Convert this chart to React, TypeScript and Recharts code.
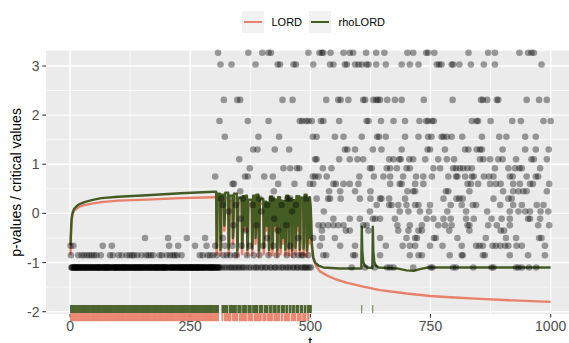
import {
  CartesianGrid,
  ComposedChart,
  Customized,
  Line,
  Scatter,
  XAxis,
  YAxis,
} from 'recharts'

const FONT = '"Liberation Sans", Arial, Helvetica, sans-serif'
const LORD_COLOR = '#E8806A'
const RHO_COLOR = '#445C24'

const xTicks = [0, 250, 500, 750, 1000]
const xMinor = [125, 375, 625, 875]
const yTicks = [-2, -1, 0, 1, 2, 3]
const yMinor = [-1.5, -0.5, 0.5, 1.5, 2.5]

// p-values, grouped by the discrete level they sit on (x = hypothesis index)
const at327 = [308, 371, 400, 413, 418, 496, 519, 524, 527, 542, 569, 582, 589, 616, 637, 654, 702, 714, 741, 745, 758, 829, 870, 884, 935, 953, 960, 965]
const at303 = [313, 336, 386, 432, 437, 465, 470, 506, 541, 548, 572, 576, 593, 600, 607, 617, 621, 637, 657, 690, 707, 725, 763, 768, 773, 794, 797, 810, 834, 861, 884, 981]
const at231 = [320, 348, 354, 442, 463, 533, 558, 563, 579, 610, 614, 631, 637, 641, 645, 660, 676, 690, 736, 796, 855, 859, 868, 888, 891, 950, 976, 992]
const at188 = [311, 370, 413, 478, 483, 491, 496, 503, 522, 527, 560, 617, 621, 647, 673, 697, 727, 741, 745, 753, 757, 836, 846, 849, 875, 920, 938, 985, 1000]
const at156 = [322, 392, 435, 505, 513, 551, 569, 607, 639, 643, 657, 697, 725, 745, 752, 773, 777, 784, 794, 816, 857, 893, 908, 947, 969]
const at130 = [381, 390, 426, 456, 572, 577, 593, 630, 648, 690, 744, 749, 780, 822, 829, 846, 853, 857, 900, 947, 969, 996]
const at110 = [352, 510, 513, 560, 582, 598, 610, 664, 673, 685, 688, 706, 714, 739, 766, 784, 799, 853, 860, 874, 891, 900, 928, 960, 965, 992]
const at092 = [374, 444, 458, 472, 477, 526, 544, 624, 628, 659, 666, 680, 700, 707, 756, 770, 797, 803, 811, 818, 827, 836, 884, 912, 926, 935, 940, 978]
const at075 = [302, 364, 370, 404, 422, 505, 510, 517, 534, 602, 632, 652, 666, 693, 720, 735, 753, 787, 803, 806, 822, 836, 840, 861, 872, 881, 915, 921, 950, 969, 974]
const at060 = [338, 341, 433, 467, 499, 506, 548, 553, 569, 582, 600, 666, 686, 690, 718, 735, 827, 834, 849, 874, 886, 896, 922, 936, 957, 963, 997]
const at045 = [354, 424, 539, 562, 593, 625, 702, 714, 718, 782, 787, 831, 901, 922, 933, 943, 950, 992]
const at030 = [314, 359, 394, 420, 452, 458, 492, 513, 537, 541, 563, 603, 625, 645, 648, 664, 697, 777, 804, 810, 817, 881, 912, 919]
const at017 = [318, 345, 380, 410, 440, 470, 638, 664, 669, 683, 700, 718, 725, 749, 792, 815, 838, 845, 895, 922, 940, 971, 985]
const at004 = [330, 398, 462, 528, 624, 686, 704, 728, 747, 785, 824, 868, 915, 933, 947, 957, 979, 995]
const atNeg011 = [355, 425, 548, 582, 603, 630, 635, 645, 676, 742, 756, 777, 792, 824, 840, 877, 898, 915, 953, 957, 978]
const atNeg024 = [340, 388, 450, 517, 526, 537, 548, 558, 569, 610, 617, 681, 707, 732, 766, 780, 794, 827, 831, 870, 888, 915, 974, 997]
const atNeg035 = [365, 433, 524, 574, 582, 621, 683, 704, 725, 732, 789, 831, 896, 903]
const atNeg050 = [156, 204, 243, 281, 318, 410, 475, 506, 524, 551, 645, 700, 718, 722, 757, 761, 806, 865, 907, 928, 976, 981]
const atNeg066 = [1, 7, 68, 87, 206, 225, 260, 284, 302, 322, 338, 357, 374, 402, 423, 458, 520, 562, 593, 657, 692, 707, 718, 749, 775, 815, 845, 852, 859, 879, 886, 895, 905, 912, 929, 940, 988]
const atNeg085 = [2, 17, 24, 29, 35, 40, 45, 50, 55, 64, 83, 89, 101, 108, 118, 124, 129, 133, 140, 149, 158, 163, 168, 173, 186, 191, 201, 208, 214, 218, 223, 232, 270, 276, 286, 291, 297, 305, 319, 326, 333, 343, 347, 368, 382, 394, 413, 430, 451, 465, 475, 482, 485, 496, 527, 533, 589, 593, 645, 707, 725, 732, 790, 815, 817, 859, 863, 915, 953, 988]
// lowest level: every index in these runs not listed above, plus the extras
const floorRuns = [[1, 310]]
const floorExtra = [312, 316, 321, 325, 330, 334, 337, 342, 345, 350, 353, 358, 361, 366, 372, 376, 383, 387, 390, 397, 400, 406, 409, 416, 419, 426, 428, 434, 440, 443, 449, 453, 457, 463, 466, 472, 474, 480, 484, 488, 490, 494, 498, 501, 586, 614, 634, 660, 666, 673, 714, 750, 754, 797, 803, 839, 877, 881, 928, 933, 940, 955, 970]

const levelRows: [number, number[]][] = [
  [3.27, at327], [3.03, at303], [2.31, at231], [1.88, at188], [1.56, at156],
  [1.3, at130], [1.1, at110], [0.92, at092], [0.75, at075], [0.6, at060],
  [0.45, at045], [0.3, at030], [0.17, at017], [0.04, at004], [-0.11, atNeg011],
  [-0.24, atNeg024], [-0.35, atNeg035], [-0.5, atNeg050], [-0.66, atNeg066], [-0.85, atNeg085],
]
const FLOOR_LEVEL = -1.1

// critical values: warm-up, the busy stretch, and the tails
const rampT = [1, 2, 3, 4, 6, 9, 14, 20, 30, 45, 65, 100, 160, 230, 300, 302]
const rhoRamp = [-0.65, -0.35, -0.15, -0.05, 0.04, 0.1, 0.15, 0.19, 0.23, 0.27, 0.31, 0.34, 0.37, 0.41, 0.44, 0.44]
const lordRamp = [-0.85, -0.45, -0.22, -0.1, 0.0, 0.06, 0.1, 0.14, 0.17, 0.2, 0.23, 0.26, 0.28, 0.31, 0.33, 0.33]

const swingT = [
  304, 305, 306, 307, 312, 313, 314, 315, 320, 321, 322, 323, 329, 330, 331, 332,
  338, 339, 340, 341, 347, 348, 349, 350, 357, 358, 359, 360, 363, 364, 365, 366,
  368, 369, 370, 371, 378, 379, 380, 381, 385, 386, 387, 388, 392, 393, 394, 395,
  402, 403, 404, 405, 408, 409, 410, 411, 413, 414, 415, 416, 420, 421, 422, 423,
  425, 426, 427, 428, 430, 431, 432, 433, 437, 438, 439, 440, 442, 443, 444, 445,
  447, 448, 449, 450, 454, 455, 456, 457, 461, 462, 463, 464, 468, 469, 470, 471,
  473, 474, 475, 476, 477, 478, 479, 480, 485, 486, 487, 488, 492, 493, 494, 495,
  496, 497, 498, 499,
]
const rhoSwing = [
  0.44, -0.7, -0.55, 0.4, 0.4, -0.74, -0.59, 0.38, 0.38, -0.25, -0.1, 0.42, 0.42, -0.72, -0.57, 0.36,
  0.36, -0.5, -0.35, 0.4, 0.4, -0.76, -0.61, 0.32, 0.32, -0.7, -0.55, 0.35, 0.35, -0.25, -0.1, 0.36,
  0.36, -0.74, -0.59, 0.28, 0.28, -0.72, -0.57, 0.36, 0.36, -0.5, -0.35, 0.38, 0.38, -0.76, -0.61, 0.3,
  0.3, -0.7, -0.55, 0.24, 0.24, -0.25, -0.1, 0.22, 0.22, -0.74, -0.59, 0.34, 0.34, -0.72, -0.57, 0.3,
  0.3, -0.25, -0.1, 0.28, 0.28, -0.76, -0.61, 0.33, 0.33, -0.7, -0.55, 0.26, 0.26, -0.5, -0.35, 0.25,
  0.25, -0.74, -0.59, 0.36, 0.36, -0.72, -0.57, 0.3, 0.3, -0.76, -0.61, 0.27, 0.27, -0.7, -0.55, 0.35,
  0.35, -0.25, -0.1, 0.35, 0.35, -0.74, -0.59, 0.32, 0.32, -0.72, -0.57, 0.38, 0.38, -0.76, -0.61, 0.3,
  0.3, -0.5, -0.35, 0.33,
]
const lordSwing = [
  0.34, -0.84, -0.69, 0.3, 0.3, -0.86, -0.71, 0.28, 0.28, -0.35, -0.2, 0.32, 0.32, -0.85, -0.7, 0.26,
  0.26, -0.62, -0.47, 0.3, 0.3, -0.88, -0.73, 0.22, 0.22, -0.83, -0.68, 0.25, 0.25, -0.35, -0.2, 0.26,
  0.26, -0.86, -0.71, 0.18, 0.18, -0.85, -0.7, 0.26, 0.26, -0.62, -0.47, 0.28, 0.28, -0.88, -0.73, 0.2,
  0.2, -0.83, -0.68, 0.14, 0.14, -0.35, -0.2, 0.12, 0.12, -0.86, -0.71, 0.24, 0.24, -0.85, -0.7, 0.2,
  0.2, -0.35, -0.2, 0.18, 0.18, -0.88, -0.73, 0.23, 0.23, -0.83, -0.68, 0.16, 0.16, -0.62, -0.47, 0.15,
  0.15, -0.86, -0.71, 0.26, 0.26, -0.85, -0.7, 0.2, 0.2, -0.88, -0.73, 0.17, 0.17, -0.83, -0.68, 0.25,
  0.25, -0.35, -0.2, 0.25, 0.25, -0.86, -0.71, 0.22, 0.22, -0.85, -0.7, 0.28, 0.28, -0.88, -0.73, 0.2,
  0.2, -0.62, -0.47, 0.23,
]

const rhoTailT = [501, 503, 506, 510, 518, 527, 560, 600, 606, 607, 608, 610, 613, 618, 629, 630, 631, 633, 636, 642, 680, 700, 715, 730, 745, 800, 900, 1000]
const rhoTail = [0.1, -0.6, -0.9, -1.0, -1.07, -1.1, -1.12, -1.12, -1.12, -0.27, -0.75, -0.98, -1.06, -1.1, -1.11, -0.27, -0.75, -0.98, -1.06, -1.1, -1.12, -1.16, -1.17, -1.13, -1.1, -1.1, -1.1, -1.1]
const lordTailT = [501, 503, 507, 513, 520, 534, 550, 575, 610, 645, 700, 749, 800, 853, 920, 1000]
const lordTail = [0.0, -0.7, -0.95, -1.09, -1.18, -1.26, -1.33, -1.41, -1.49, -1.56, -1.63, -1.68, -1.71, -1.74, -1.77, -1.8]

// rejections, as runs of consecutive indices
const rhoRejectRuns = [[1, 309], [316, 328], [331, 346], [349, 356], [359, 367], [370, 377], [380, 391], [394, 401], [404, 412], [415, 419], [422, 429], [432, 436], [439, 446], [449, 453], [456, 460], [463, 467], [470, 476], [479, 484], [487, 491], [494, 502], [607, 607], [630, 630]]
const lordRejectRuns = [[1, 309], [316, 318], [321, 335], [338, 349], [352, 367], [370, 380], [383, 398], [401, 408], [411, 421], [424, 436], [439, 443], [446, 457], [460, 470], [473, 481], [484, 491], [494, 497]]
const RUG_RHO = -1.945
const RUG_LORD = -2.03

const expandRuns = (runs: number[][]) =>
  runs.flatMap(([a, b]) => Array.from({ length: b - a + 1 }, (_, k) => a + k))

const usedIdx = new Set(levelRows.flatMap(([, xs]) => xs))
const pointData = [
  ...levelRows.flatMap(([v, xs]) => xs.map((t) => ({ t, v }))),
  ...expandRuns(floorRuns)
    .filter((t) => !usedIdx.has(t))
    .concat(floorExtra)
    .map((t) => ({ t, v: FLOOR_LEVEL })),
]

const zip = (ts: number[], vs: number[]) => ts.map((t, i) => ({ t, v: vs[i] }))
const rhoData = [...zip(rampT, rhoRamp), ...zip(swingT, rhoSwing), ...zip(rhoTailT, rhoTail)]
const lordData = [...zip(rampT, lordRamp), ...zip(swingT, lordSwing), ...zip(lordTailT, lordTail)]
const rhoRug = expandRuns(rhoRejectRuns).map((t) => ({ t, v: RUG_RHO }))
const lordRug = expandRuns(lordRejectRuns).map((t) => ({ t, v: RUG_LORD }))

function PValueDot({ cx, cy }: any) {
  return <circle cx={cx} cy={cy} r={3.3} fill="#000" fillOpacity={0.37} />
}

const rugMark = (color: string, dy: number) =>
  function RugMark({ cx, cy }: any) {
    return <rect x={cx - 0.4} y={cy + dy} width={0.8} height={8} fill={color} />
  }

function AxisTitles() {
  return (
    <g fontFamily={FONT} fill="#000">
      <text transform="rotate(-90)" x={-182.4} y={21} textAnchor="middle" fontSize={14}>
        p-values / critical values
      </text>
      <text x={310.3} y={347} textAnchor="middle" fontSize={14}>
        t
      </text>
    </g>
  )
}

const legendItems = [
  { label: 'LORD', color: LORD_COLOR },
  { label: 'rhoLORD', color: RHO_COLOR },
]

function ChartLegend() {
  return (
    <div
      style={{
        position: 'absolute',
        left: 242,
        top: 11,
        display: 'flex',
        alignItems: 'center',
        gap: 7,
        fontFamily: FONT,
        fontSize: 11,
        color: '#000',
        zIndex: 1,
      }}
    >
      {legendItems.map((d) => (
        <div key={d.label} style={{ display: 'flex', alignItems: 'center', gap: 7.5 }}>
          <span
            style={{
              width: 22,
              height: 22,
              background: '#F2F2F2',
              display: 'flex',
              alignItems: 'center',
              justifyContent: 'center',
            }}
          >
            <span style={{ width: 17.6, height: 2.4, background: d.color }} />
          </span>
          <span>{d.label}</span>
        </div>
      ))}
    </div>
  )
}

export default function App() {
  const tickStyle = { fill: '#4D4D4D', fontSize: 14, fontFamily: FONT }
  return (
    <div
      style={{
        position: 'absolute',
        left: 0,
        top: 0,
        width: 569,
        height: 343,
        overflow: 'hidden',
        background: '#fff',
      }}
    >
      <ChartLegend />
      <ComposedChart width={580} height={360} margin={{ top: 50.7, right: 5.3, bottom: 0, left: 0 }}>
        <CartesianGrid
          fill="#EBEBEB"
          stroke="#fff"
          strokeWidth={0.7}
          horizontalValues={yMinor}
          verticalValues={xMinor}
        />
        <CartesianGrid
          stroke="#fff"
          strokeWidth={1.4}
          horizontalValues={yTicks}
          verticalValues={xTicks}
        />
        <XAxis
          type="number"
          dataKey="t"
          domain={[-50, 1050]}
          ticks={xTicks}
          interval={0}
          height={46}
          axisLine={false}
          tickLine={{ stroke: '#333333', strokeWidth: 1.1 }}
          tickSize={3.6}
          tickMargin={3}
          tick={tickStyle}
        />
        <YAxis
          type="number"
          dataKey="v"
          domain={[-2.047, 3.311]}
          ticks={yTicks}
          interval={0}
          width={46}
          axisLine={false}
          tickLine={{ stroke: '#333333', strokeWidth: 1.1 }}
          tickSize={3.6}
          tickMargin={2.9}
          tick={tickStyle}
        />
        <Scatter data={pointData} dataKey="v" shape={PValueDot} isAnimationActive={false} />
        <Line
          data={lordData}
          dataKey="v"
          stroke={LORD_COLOR}
          strokeWidth={2.4}
          strokeLinejoin="round"
          dot={false}
          activeDot={false}
          isAnimationActive={false}
        />
        <Line
          data={rhoData}
          dataKey="v"
          stroke={RHO_COLOR}
          strokeWidth={2.4}
          strokeLinejoin="round"
          dot={false}
          activeDot={false}
          isAnimationActive={false}
        />
        <Scatter data={rhoRug} dataKey="v" shape={rugMark(RHO_COLOR, -4)} isAnimationActive={false} />
        <Scatter data={lordRug} dataKey="v" shape={rugMark(LORD_COLOR, 0)} isAnimationActive={false} />
        <Customized component={AxisTitles} />
      </ComposedChart>
    </div>
  )
}
